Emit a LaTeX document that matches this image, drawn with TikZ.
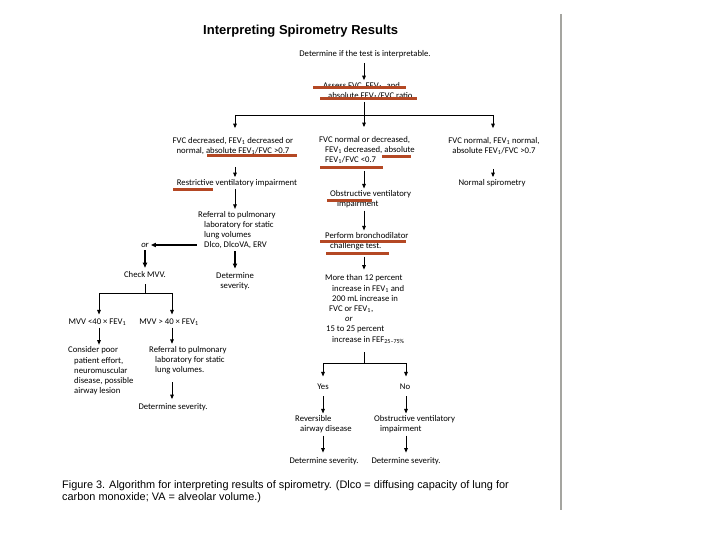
\documentclass[tikz,border=0pt]{standalone}
\usepackage{fontspec}
\setmainfont{Carlito}
\newfontfamily\arialfont{Liberation Sans}
\usetikzlibrary{arrows.meta}
\newcommand{\fevone}{FEV\textsubscript{1}}
\newcommand{\hind}[1]{\hspace*{#1pt}}
\definecolor{markred}{RGB}{180,72,36}
\definecolor{rulegray}{RGB}{165,165,160}
\tikzset{
  txt/.style={font=\fontsize{8.7}{10.2}\selectfont, inner sep=2pt},
  lft/.style={txt, align=left, anchor=west},
  ctr/.style={txt, align=center},
  arr/.style={-{Triangle[length=4.5pt,width=3.6pt]}, line width=0.9pt},
  arrb/.style={-{Triangle[length=5pt,width=4.2pt]}, line width=1.3pt, draw=black, line cap=rect},
  ln/.style={line width=0.9pt},
  redline/.style={line width=3pt, draw=markred},
}
\begin{document}
\begin{tikzpicture}[x=1pt,y=-1pt]
\useasboundingbox (0,0) rectangle (720,540);
% nodes
\node[anchor=west, font=\arialfont\bfseries\fontsize{13}{15}\selectfont, inner sep=0] (title) at (203,31) {Interpreting Spirometry Results};
\node[ctr] (det) at (365,54) {Determine if the test is interpretable.};
\node[lft] (assess) at (321,91) {Assess FVC, \fevone, and\\\hind{5}absolute \fevone/FVC ratio};
\node[ctr] (left2) at (233,146) {FVC decreased, \fevone{} decreased or\\normal, absolute \fevone/FVC >0.7};
\node[lft] (mid2) at (317,150) {FVC normal or decreased,\\\hind{6}\fevone{} decreased, absolute\\\hind{6}\fevone/FVC <0.7};
\node[ctr] (right2) at (494,146) {FVC normal, \fevone{} normal,\\absolute \fevone/FVC >0.7};
\node[ctr] (restr) at (237,183) {Restrictive ventilatory impairment};
\node[ctr] (normal) at (492,183) {Normal spirometry};
\node[lft] (obstr) at (328,199.5) {Obstructive ventilatory\\\hind{7}impairment};
\node[lft] (ref1) at (196,230) {Referral to pulmonary\\\hind{6}laboratory for static\\\hind{6}lung volumes\\\hind{6}Dlco, DlcoVA, ERV};
\node[ctr] (orA) at (145,245) {\itshape or};
\node[ctr] (check) at (145,275) {Check MVV.};
\node[ctr] (detB) at (235,281.5) {Determine\\severity.};
\node[lft] (perf) at (323,241.5) {Perform bronchodilator\\\hind{5}challenge test.};
\node[lft] (more) at (323,309) {More than 12 percent\\\hind{7}increase in \fevone{} and\\\hind{7}200 mL increase in\\\hind{4}FVC or \fevone,\\\hind{20}\textit{or}\\\hind{1}15 to 25 percent\\\hind{7}increase in FEF\textsubscript{25--75\%}};
\node[ctr] (mvvA) at (97.5,322) {MVV <40 × \fevone};
\node[ctr] (mvvB) at (169,322) {MVV > 40 × \fevone};
\node[lft] (consider) at (66,371) {Consider poor\\\hind{6}patient effort,\\\hind{6}neuromuscular\\\hind{6}disease, possible\\\hind{6}airway lesion};
\node[lft] (ref2) at (147,360) {Referral to pulmonary\\\hind{6}laboratory for static\\\hind{6}lung volumes.};
\node[ctr] (det3) at (173,407) {Determine severity.};
\node[ctr] (yes) at (323,387) {Yes};
\node[ctr] (no) at (405,387) {No};
\node[lft] (rev) at (293,424.5) {Reversible\\\hind{5}airway disease};
\node[lft] (obs2) at (372,424.5) {Obstructive ventilatory\\\hind{6}impairment};
\node[ctr] (det4) at (324,461) {Determine severity.};
\node[ctr] (det5) at (406,461) {Determine severity.};
\node[anchor=west, align=left, inner sep=0, font=\arialfont\fontsize{10.9}{11.5}\selectfont] (cap) at (62,491.5) {Figure 3. Algorithm for interpreting results of spirometry. (Dlco = diffusing capacity of lung for\\carbon monoxide; VA = alveolar volume.)};
% column coordinates
\coordinate (cL) at (235,0);
\coordinate (cM) at (364,0);
\coordinate (cR) at (493,0);
\coordinate (cA) at (99,0);
\coordinate (cB) at (172,0);
\coordinate (cY) at (323,0);
\coordinate (cN) at (406,0);
\coordinate (br1) at (364,115);
\coordinate (br2) at (145,293);
\coordinate (br3) at (364,363);
% connectors
\draw[arr, shorten <=3pt] (cM |- det.south) -- (cM |- assess.north);
\draw[ln] (cM |- assess.south) -- (br1);
\draw[ln] (br1 -| cL) -- (br1 -| cR);
\draw[arr, shorten >=7pt] (br1 -| cL) -- (cL |- left2.north);
\draw[arr, shorten >=7pt] (br1) -- (cM |- mid2.north);
\draw[arr, shorten >=7pt] (br1 -| cR) -- (cR |- right2.north);
\draw[arr, shorten <=10pt] (cL |- left2.south) -- (cL |- restr.north);
\draw[arr, shorten <=5pt] (cM |- mid2.south) -- (cM |- obstr.north);
\draw[arr, shorten <=12pt] (cR |- right2.south) -- (cR |- normal.north);
\draw[arr] (cL |- restr.south) -- (cL |- ref1.north);
\draw[arr] (cM |- obstr.south) -- (cM |- perf.north);
\path (ref1.west |- orA) edge[arrb] (orA.east)
      (orA.south) edge[arrb, shorten <=1pt, shorten >=2pt] (check.north);
\draw[arrb, line width=1.1pt, shorten >=2pt] (cL |- ref1.south) -- (cL |- detB.north);
\draw[arr, shorten <=4pt, shorten >=3pt] (cM |- perf.south) -- (cM |- more.north);
\draw[ln, shorten <=4pt] (check.south) -- (br2);
\draw[ln] (br2 -| cA) -- (br2 -| cB);
\draw[arr, shorten >=2pt] (br2 -| cA) -- (cA |- mvvA.north);
\draw[arr, shorten >=2pt] (br2 -| cB) -- (cB |- mvvB.north);
\draw[arr] (cA |- mvvA.south) -- (cA |- consider.north);
\draw[arr] (cB |- mvvB.south) -- (cB |- ref2.north);
\draw[arr, shorten <=6pt, shorten >=2pt] (cB |- ref2.south) -- (cB |- det3.north);
\draw[ln, shorten <=7pt] (cM |- more.south) -- (br3);
\draw[ln] (br3 -| cY) -- (br3 -| cN);
\draw[arr, shorten >=5.5pt] (br3 -| cY) -- (cY |- yes.north);
\draw[arr, shorten >=5.5pt] (br3 -| cN) -- (cN |- no.north);
\draw[arr, shorten <=4pt] (cY |- yes.south) -- (cY |- rev.north);
\draw[arr, shorten <=4pt] (cN |- no.south) -- (cN |- obs2.north);
\draw[arr, shorten >=2.5pt] (cY |- rev.south) -- (cY |- det4.north);
\draw[arr, shorten >=2.5pt] (cN |- obs2.south) -- (cN |- det5.north);
% red annotation marks
\draw[redline] (313,88) -- (406,88);
\draw[redline] (320,99) -- (417,99);
\draw[redline] (207,156) -- (297,156);
\draw[redline] (382,157) -- (411,157);
\draw[redline] (320,168) -- (383,168);
\draw[redline] (173,190) -- (213,190);
\draw[redline] (327,201) -- (372,201);
\draw[redline] (320,241) -- (406,241);
\draw[redline] (326,253) -- (389,253);
% page rule
\draw[rulegray, line width=1.3pt] (561,14) -- (561,510);
\end{tikzpicture}
\end{document}
